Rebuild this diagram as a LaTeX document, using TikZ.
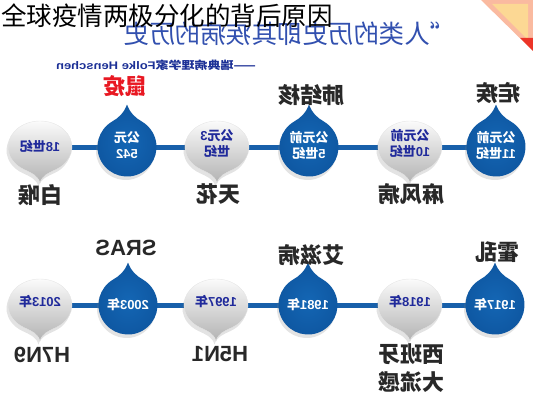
\documentclass[tikz,border=0pt]{standalone}
\usepackage{fontspec}
\setmainfont{Liberation Sans}
\newfontfamily\zh{Noto Sans CJK SC}
\newfontfamily\la{Liberation Sans}
\usetikzlibrary{shadows}
\definecolor{lineblue}{RGB}{24,96,170}
\definecolor{dropblue}{RGB}{20,102,180}
\definecolor{dropblueo}{RGB}{14,86,160}
\definecolor{wtextblue}{RGB}{32,42,155}
\definecolor{labelgrey}{RGB}{40,40,40}
\definecolor{plaguered}{RGB}{232,24,34}
\definecolor{hdrblue}{RGB}{50,80,175}
\definecolor{subblue}{RGB}{28,48,150}
\definecolor{salmonc}{RGB}{250,186,160}
\definecolor{yellowc}{RGB}{252,216,148}
\definecolor{redc}{RGB}{236,52,40}
\newcommand\mir[1]{\reflectbox{#1}}
\newcommand\mtwo[2]{\reflectbox{\begin{tabular}{@{}c@{}}#1\\#2\end{tabular}}}
\tikzset{
  dshadow/.style={drop shadow={opacity=0.22,shadow xshift=-1.5pt,shadow yshift=-3.5pt}},
  bdrop/.pic={
    \path[dshadow,inner color=dropblue,outer color=dropblueo]
      (120:29.5) arc[start angle=120,end angle=420,radius=29.5]
      .. controls (8.5,29) and (3.1,34) .. (0,42.5)
      .. controls (-3.1,34) and (-8.5,29) .. (-14.75,25.55) -- cycle;
  },
  wdrop/.pic={
    \path[dshadow,top color=white,middle color=black!3,bottom color=black!30,draw=black!10,line width=0.4pt]
      (16,-22.52) arc[start angle=-60,end angle=240,x radius=32,y radius=26]
      .. controls (-9.1,-25.75) and (-2.07,-28.3) .. (0,-36)
      .. controls (2.07,-28.3) and (9.1,-25.75) .. (16,-22.52) -- cycle;
  },
  tl/.style={draw=lineblue,line width=5pt},
  wt/.style={inner sep=0pt,text=wtextblue,font=\fontsize{13}{16.5}\selectfont\bfseries},
  bt/.style={inner sep=0pt,text=white,font=\fontsize{13}{16.5}\selectfont\bfseries},
  lab/.style={inner sep=0pt,text=labelgrey,font=\zh\fontsize{22}{28}\selectfont\bfseries},
  llab/.style={inner sep=0pt,text=labelgrey,font=\la\fontsize{22}{28}\selectfont\bfseries},
}
\begin{document}
\begin{tikzpicture}[x=1pt,y=1pt]
\useasboundingbox (0,0) rectangle (533,400);
% corner decoration
\fill[salmonc] (481,400) -- (533,400) -- (533,349) -- cycle;
\fill[yellowc] (492,396) -- (528,396) -- (528,360) -- cycle;
\fill[redc] (520,362) -- (533,362) -- (533,349) -- cycle;
% header quote and author
\node[inner sep=0pt,text=hdrblue,font=\zh\fontsize{25.5}{30}\selectfont] (hdr) at (290,366) {\mir{“人类的历史即其疾病的历史}};
\node[inner sep=0pt,text=subblue,font=\zh\fontsize{11}{13}\selectfont\bfseries] (sub) at (156,335) {\scalebox{-1.18}[1]{——瑞典病理学家{\la Folke Henschen}}};
% row 1
\coordinate (a1) at (40,253);
\coordinate (a2) at (127,253);
\coordinate (a3) at (217,253);
\coordinate (a4) at (309,253);
\coordinate (a5) at (410,253);
\coordinate (a6) at (496,253);
\draw[tl] (a1) -- (a2) -- (a3) -- (a4) -- (a5) -- (a6);
\pic at (a1) {wdrop};
\pic at (a2) {bdrop};
\pic at (a3) {wdrop};
\pic at (a4) {bdrop};
\pic at (a5) {wdrop};
\pic at (a6) {bdrop};
\node[wt] (t1) at ([yshift=1pt]a1) {\mir{18{\zh 世纪}}};
\node[bt] (t2) at (a2) {\mtwo{\zh 公元}{542}};
\node[wt] (t3) at ([yshift=2pt]a3) {\mtwo{{\zh 公元}3}{\zh 世纪}};
\node[bt] (t4) at (a4) {\mtwo{\zh 公元前}{5{\zh 世纪}}};
\node[wt] (t5) at ([yshift=2pt]a5) {\mtwo{\zh 公元前}{10{\zh 世纪}}};
\node[bt] (t6) at (a6) {\mtwo{\zh 公元前}{11{\zh 世纪}}};
\node[lab] (l1) at (41,205) {\mir{白喉}};
\node[lab,text=plaguered] (l2) at (125,314) {\mir{鼠疫}};
\node[lab] (l3) at (218,206) {\mir{天花}};
\node[lab] (l4) at (311,305) {\mir{肺结核}};
\node[lab] (l5) at (411,206) {\mir{麻风病}};
\node[lab] (l6) at (498,307) {\mir{疟疾}};
% row 2
\coordinate (c1) at (40,95);
\coordinate (c2) at (128,95);
\coordinate (c3) at (216,95);
\coordinate (c4) at (308,95);
\coordinate (c5) at (410,95);
\coordinate (c6) at (495,95);
\draw[tl] (c1) -- (c2) -- (c3) -- (c4) -- (c5) -- (c6);
\pic at (c1) {wdrop};
\pic at (c2) {bdrop};
\pic at (c3) {wdrop};
\pic at (c4) {bdrop};
\pic at (c5) {wdrop};
\pic at (c6) {bdrop};
\node[wt] (u1) at ([yshift=3pt]c1) {\mir{2013{\zh 年}}};
\node[bt] (u2) at (c2) {\mir{2003{\zh 年}}};
\node[wt] (u3) at ([yshift=3pt]c3) {\mir{1997{\zh 年}}};
\node[bt] (u4) at (c4) {\mir{1981{\zh 年}}};
\node[wt] (u5) at ([yshift=3pt]c5) {\mir{1918{\zh 年}}};
\node[bt] (u6) at (c6) {\mir{1917{\zh 年}}};
\node[llab] (m1) at (42,45) {\mir{H7N9}};
\node[llab] (m2) at (126,152) {\mir{SRAS}};
\node[llab] (m3) at (220,46) {\mir{H5N1}};
\node[lab] (m4) at (311,145) {\mir{艾滋病}};
\node[lab] (m5) at (411,29) {\mtwo{西班牙}{大流感}};
\node[lab] (m6) at (497,148) {\mir{霍乱}};
% title
\node[inner sep=0pt,anchor=west,text=black,font=\zh\fontsize{25.5}{30}\selectfont] (title) at (1,384) {全球疫情两极分化的背后原因};
\end{tikzpicture}
\end{document}
